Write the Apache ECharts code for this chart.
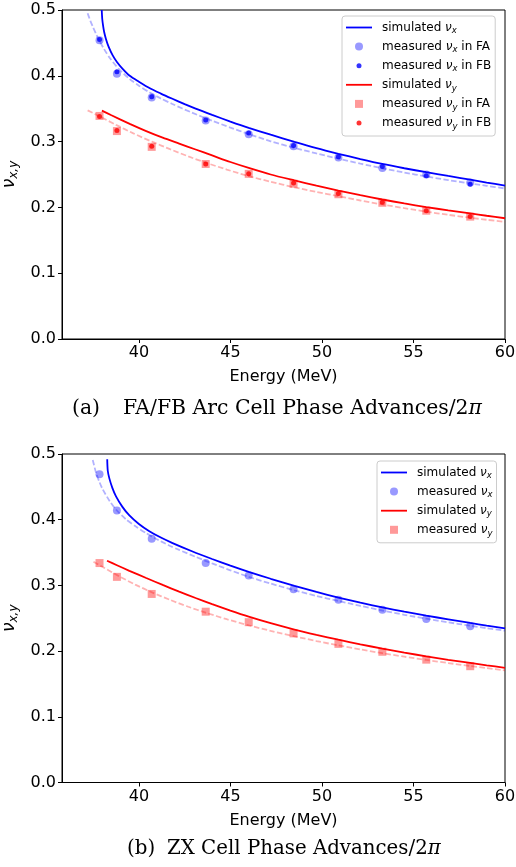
<!DOCTYPE html>
<html>
<head>
<meta charset="utf-8">
<script src="https://cdn.jsdelivr.net/npm/echarts@6.0.0/dist/echarts.min.js"></script>
<style>
  html, body { margin: 0; padding: 0; background: #fff; }
  #chart { width: 516px; height: 867px; }
</style>
</head>
<body>
<div id="chart"></div>
<script>
// beam energies of the measurements (MeV)
const energy = [37.85, 38.8, 40.7, 43.65, 46.0, 48.45, 50.9, 53.3, 55.7, 58.1];
const xTicks = [40, 45, 50, 55, 60];

// (a) FA/FB arc cell, measured tunes
const aNuxFA = [0.454, 0.403, 0.367, 0.332, 0.311, 0.293, 0.276, 0.260, 0.250, 0.238];
const aNuxFB = [0.455, 0.406, 0.368, 0.333, 0.313, 0.294, 0.277, 0.262, 0.248, 0.235];
const aNuyFA = [0.339, 0.316, 0.292, 0.266, 0.251, 0.236, 0.220, 0.207, 0.195, 0.186];
const aNuyFB = [0.338, 0.317, 0.293, 0.266, 0.251, 0.237, 0.221, 0.208, 0.195, 0.186];

// (a) simulated curves and dashed fits, [energy, tune]
const aSimX = [[37.97, 0.5], [38.0, 0.486], [38.05, 0.475], [38.1, 0.467], [38.2, 0.456], [38.35, 0.444],
  [38.57, 0.431], [38.8, 0.421], [39.1, 0.411], [39.5, 0.4], [40.0, 0.391], [40.6, 0.381], [41.2, 0.373],
  [41.8, 0.3655], [42.5, 0.357], [43.1, 0.35], [44.0, 0.3405], [45.0, 0.3305], [46.0, 0.321], [47.2, 0.3105],
  [48.5, 0.2995], [49.7, 0.29], [50.9, 0.2815], [52.1, 0.2735], [53.3, 0.266], [54.5, 0.2595], [55.7, 0.2535],
  [56.9, 0.2478], [58.1, 0.2422], [59.0, 0.2378], [60.0, 0.233]];
const aFitX = [[37.2, 0.495], [37.35, 0.4835], [37.5, 0.4735], [37.66, 0.4637], [37.84, 0.4535], [38.1, 0.4405],
  [38.4, 0.4275], [38.9, 0.4105], [39.5, 0.395], [40.0, 0.385], [40.6, 0.3745], [41.2, 0.3655], [41.8, 0.3575],
  [42.9, 0.344], [44.0, 0.3318], [45.0, 0.3213], [46.0, 0.3115], [47.2, 0.3005], [48.5, 0.2905], [49.7, 0.282],
  [50.9, 0.274], [52.1, 0.2665], [53.3, 0.2595], [54.5, 0.253], [55.7, 0.247], [56.9, 0.2415], [58.1, 0.2365],
  [59.0, 0.2328], [60.0, 0.2288]];
const aSimY = [[37.98, 0.347], [38.5, 0.34], [39.5, 0.327], [40.4, 0.316], [41.3, 0.306], [42.2, 0.297],
  [43.1, 0.288], [44.0, 0.279], [45.0, 0.269], [46.0, 0.26], [47.2, 0.25], [48.5, 0.241], [49.7, 0.233],
  [50.9, 0.2255], [52.1, 0.2185], [53.3, 0.212], [54.5, 0.206], [55.7, 0.2005], [56.9, 0.1955], [58.1, 0.1908],
  [59.0, 0.1873], [60.0, 0.1835]];
const aFitY = [[37.2, 0.3475], [37.84, 0.3385], [38.75, 0.3255], [39.7, 0.3125], [40.75, 0.2995], [41.7, 0.2885],
  [42.7, 0.2775], [43.65, 0.268], [44.8, 0.2575], [46.0, 0.2475], [47.2, 0.239], [48.5, 0.2305], [49.7, 0.2235],
  [50.9, 0.217], [52.1, 0.2105], [53.3, 0.2045], [54.5, 0.1988], [55.7, 0.1935], [56.9, 0.1887], [58.1, 0.1843],
  [59.0, 0.1812], [60.0, 0.178]];

// (b) ZX cell, measured tunes
const bNux = [0.469, 0.414, 0.371, 0.334, 0.315, 0.294, 0.278, 0.263, 0.249, 0.238];
const bNuy = [0.334, 0.313, 0.287, 0.260, 0.244, 0.227, 0.211, 0.199, 0.187, 0.177];

// (b) simulated curves and dashed fits
const bSimX = [[38.27, 0.492], [38.3, 0.4745], [38.39, 0.4625], [38.55, 0.4485], [38.75, 0.4355], [39.1, 0.4195],
  [39.48, 0.4065], [40.0, 0.3935], [40.57, 0.3825], [41.2, 0.3728], [41.84, 0.3644], [42.9, 0.352], [44.0, 0.3402],
  [45.0, 0.3301], [46.0, 0.3206], [47.2, 0.3101], [48.5, 0.2993], [49.7, 0.29], [50.9, 0.2815], [52.1, 0.2737],
  [53.3, 0.2665], [54.5, 0.26], [55.7, 0.254], [56.9, 0.2483], [58.1, 0.2428], [59.0, 0.2388], [60.0, 0.2345]];
const bFitX = [[37.48, 0.491], [37.66, 0.4715], [37.85, 0.457], [38.02, 0.4465], [38.4, 0.4285], [38.75, 0.4155],
  [39.3, 0.4005], [39.84, 0.3895], [40.4, 0.3795], [40.93, 0.371], [41.6, 0.3615], [42.2, 0.354], [43.1, 0.3435],
  [44.0, 0.3335], [45.0, 0.323], [46.0, 0.313], [47.2, 0.3028], [48.5, 0.2925], [49.7, 0.284], [50.9, 0.2762],
  [52.1, 0.2688], [53.3, 0.2618], [54.5, 0.2553], [55.7, 0.2493], [56.9, 0.2438], [58.1, 0.2386], [59.0, 0.2349],
  [60.0, 0.231]];
const bSimY = [[38.26, 0.3375], [38.8, 0.3307], [39.48, 0.3222], [40.4, 0.3112], [41.3, 0.3007], [42.2, 0.2905],
  [43.1, 0.2808], [44.0, 0.2715], [45.0, 0.2617], [46.0, 0.2525], [47.2, 0.2425], [48.5, 0.2328], [49.7, 0.2248],
  [50.9, 0.2173], [52.1, 0.2103], [53.3, 0.2038], [54.5, 0.1977], [55.7, 0.192], [56.9, 0.1868], [58.1, 0.182],
  [59.0, 0.1784], [60.0, 0.1745]];
const bFitY = [[37.52, 0.336], [38.02, 0.328], [38.93, 0.3138], [39.8, 0.3012], [40.75, 0.289], [41.7, 0.278],
  [42.7, 0.2675], [43.65, 0.2585], [44.8, 0.2485], [46.0, 0.2392], [47.2, 0.2308], [48.5, 0.2225], [49.7, 0.2153],
  [50.9, 0.2087], [52.1, 0.2025], [53.3, 0.1968], [54.5, 0.1915], [55.7, 0.1865], [56.9, 0.1818], [58.1, 0.1773],
  [59.0, 0.1741], [60.0, 0.1705]];

const BLUE = '#0000ff';
const RED = '#ff0000';
const SANS = 'DejaVu Sans';
const SERIF = 'DejaVu Serif';

const pairs = (xs, ys) => xs.map((x, i) => [x, ys[i]]);

// legend labels with the greek nu and a subscript
const legendText = {
  'a-simx': '{t|simulated }{v|ν}{s|x}',
  'a-fax': '{t|measured }{v|ν}{s|x}{t| in FA}',
  'a-fbx': '{t|measured }{v|ν}{s|x}{t| in FB}',
  'a-simy': '{t|simulated }{v|ν}{s|y}',
  'a-fay': '{t|measured }{v|ν}{s|y}{t| in FA}',
  'a-fby': '{t|measured }{v|ν}{s|y}{t| in FB}',
  'b-simx': '{t|simulated }{v|ν}{s|x}',
  'b-mx': '{t|measured }{v|ν}{s|x}',
  'b-simy': '{t|simulated }{v|ν}{s|y}',
  'b-my': '{t|measured }{v|ν}{s|y}'
};
const legendRich = {
  t: {fontFamily: SANS, fontSize: 12, lineHeight: 16, verticalAlign: 'middle', color: '#000'},
  v: {fontFamily: SANS, fontSize: 12, fontStyle: 'italic', lineHeight: 16, verticalAlign: 'middle', color: '#000'},
  s: {fontFamily: SANS, fontSize: 8.5, fontStyle: 'italic', lineHeight: 8.5, verticalAlign: 'bottom', color: '#000'}
};

const lineIcon = 'path://M0,3.1H26V4.9H0Z';
const dotIcon = 'path://M0,0M8,8M4,1.5A2.5,2.5,0,1,1,4,6.5A2.5,2.5,0,1,1,4,1.5Z';
const squareIcon = 'path://M0,0H8V8H0Z';

function curve(name, data, color, dashed, gi) {
  return {
    name, type: 'line', data, xAxisIndex: gi, yAxisIndex: gi,
    symbol: 'none', smooth: 0.25, clip: true, z: 2,
    lineStyle: dashed
      ? {color, width: 1.8, opacity: 0.3, type: [5.5, 2.4]}
      : {color, width: 1.8},
    itemStyle: {color}
  };
}

function points(name, data, color, symbol, size, gi, z) {
  return {
    name, type: 'scatter', data, xAxisIndex: gi, yAxisIndex: gi,
    symbol, symbolSize: size, z,
    itemStyle: {color}
  };
}

function legendBox(left, top, names) {
  return {
    orient: 'vertical', left, top,
    itemWidth: 26, itemHeight: 8, itemGap: 5.1,
    padding: [5.5, 4, 5, 4],
    backgroundColor: 'rgba(255,255,255,0.8)',
    borderColor: '#cccccc', borderWidth: 1, borderRadius: 3,
    data: names,
    formatter: n => legendText[n],
    textStyle: {padding: [0, 0, 0, 5], rich: legendRich},
    selectedMode: false
  };
}

function xAxis(gi) {
  return {
    gridIndex: gi, type: 'value', min: 35.8, max: 60,
    name: 'Energy (MeV)', nameLocation: 'middle', nameGap: 30,
    nameTextStyle: {fontFamily: SANS, fontSize: 16, color: '#000'},
    axisLine: {show: true, onZero: false, lineStyle: {color: '#000', width: 1}},
    axisTick: {show: true, length: 4, customValues: xTicks, lineStyle: {color: '#000'}},
    axisLabel: {customValues: xTicks, margin: 6, fontFamily: SANS, fontSize: 16, color: '#000'},
    splitLine: {show: false}
  };
}

function yAxis(gi) {
  return {
    gridIndex: gi, type: 'value', min: 0, max: 0.5, interval: 0.1,
    name: '{v|ν}{s|x,y}', nameLocation: 'middle', nameRotate: 90, nameGap: 33,
    nameTextStyle: {
      rich: {
        v: {fontFamily: SANS, fontSize: 17, fontStyle: 'italic', lineHeight: 20, verticalAlign: 'middle', color: '#000'},
        s: {fontFamily: SANS, fontSize: 12, fontStyle: 'italic', lineHeight: 12, verticalAlign: 'bottom', color: '#000'}
      }
    },
    axisLine: {show: true, lineStyle: {color: '#000', width: 1}},
    axisTick: {show: true, length: 4, lineStyle: {color: '#000'}},
    axisLabel: {margin: 6, formatter: v => v.toFixed(1), fontFamily: SANS, fontSize: 16, color: '#000'},
    splitLine: {show: false}
  };
}

function captionStyle(size) {
  return {
    fontFamily: SERIF, fontSize: size, fontWeight: 'normal', color: '#000',
    rich: {
      r: {fontFamily: SERIF, fontSize: size, color: '#000'},
      i: {fontFamily: SERIF, fontSize: size, fontStyle: 'italic', color: '#000'}
    }
  };
}

const gridBase = {
  left: 62, right: 11, show: true, borderColor: '#000', borderWidth: 1,
  backgroundColor: '#fff', containLabel: false, outerBoundsMode: 'none'
};

const myChart = echarts.init(document.getElementById('chart'), null, {renderer: 'canvas'});

const option = {
  animation: false,
  backgroundColor: '#fff',
  title: [
    {text: '(a)', left: 67, top: 394, textStyle: captionStyle(20.4)},
    {text: '{r|FA/FB Arc Cell Phase Advances/2}{i|π}', left: 118, top: 394, textStyle: captionStyle(20.4)},
    {text: '(b)', left: 122, top: 834, textStyle: captionStyle(19.8)},
    {text: '{r|ZX Cell Phase Advances/2}{i|π}', left: 162, top: 834, textStyle: captionStyle(19.8)}
  ],
  grid: [
    Object.assign({top: 10, height: 329}, gridBase),
    Object.assign({top: 454, height: 328.5}, gridBase)
  ],
  xAxis: [xAxis(0), xAxis(1)],
  yAxis: [yAxis(0), yAxis(1)],
  legend: [
    legendBox(342, 16, [
      {name: 'a-simx', icon: lineIcon}, {name: 'a-fax', icon: 'circle'}, {name: 'a-fbx', icon: dotIcon},
      {name: 'a-simy', icon: lineIcon}, {name: 'a-fay', icon: squareIcon}, {name: 'a-fby', icon: dotIcon}
    ]),
    legendBox(377, 461, [
      {name: 'b-simx', icon: lineIcon}, {name: 'b-mx', icon: 'circle'},
      {name: 'b-simy', icon: lineIcon}, {name: 'b-my', icon: squareIcon}
    ])
  ],
  series: [
    curve('a-simx', aSimX, BLUE, false, 0),
    curve('a-fitx', aFitX, BLUE, true, 0),
    curve('a-simy', aSimY, RED, false, 0),
    curve('a-fity', aFitY, RED, true, 0),
    points('a-fax', pairs(energy, aNuxFA), 'rgba(0,0,255,0.5)', 'circle', 8, 0, 3),
    points('a-fbx', pairs(energy, aNuxFB), BLUE, 'circle', 5, 0, 4),
    points('a-fay', pairs(energy, aNuyFA), 'rgba(255,0,0,0.5)', 'rect', 8, 0, 3),
    points('a-fby', pairs(energy, aNuyFB), RED, 'circle', 5, 0, 4),

    curve('b-simx', bSimX, BLUE, false, 1),
    curve('b-fitx', bFitX, BLUE, true, 1),
    curve('b-simy', bSimY, RED, false, 1),
    curve('b-fity', bFitY, RED, true, 1),
    points('b-mx', pairs(energy, bNux), 'rgba(0,0,255,0.5)', 'circle', 8, 1, 3),
    points('b-my', pairs(energy, bNuy), 'rgba(255,0,0,0.5)', 'rect', 8, 1, 3)
  ]
};

myChart.setOption(option);
window.addEventListener('resize', () => {
  myChart.resize();
});
</script>
</body>
</html>
